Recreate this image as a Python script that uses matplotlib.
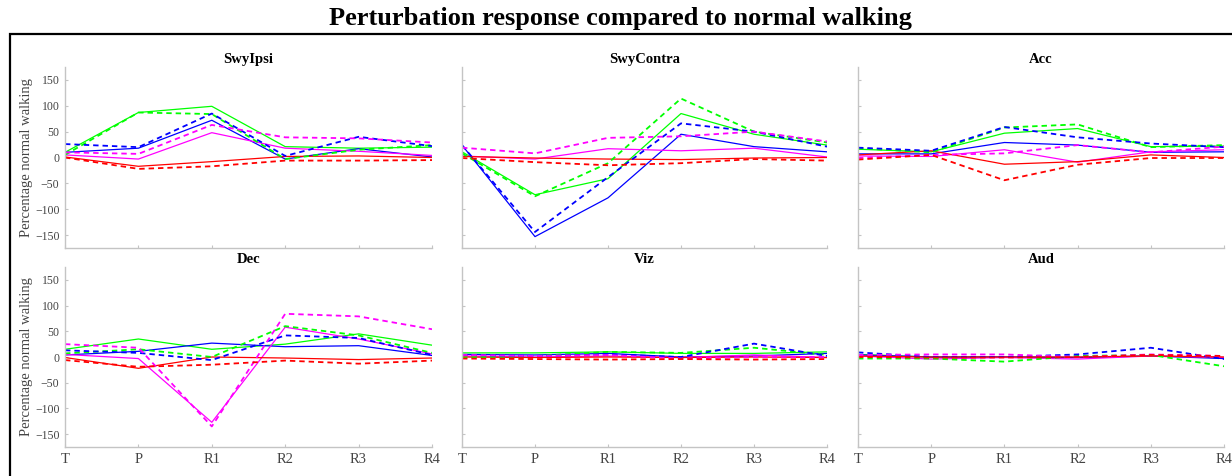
import numpy as np
import matplotlib
matplotlib.use('Agg')
import matplotlib.pyplot as plt
from matplotlib.patches import Rectangle

plt.rcParams['font.family'] = ['Liberation Serif', 'DejaVu Serif']

# stages along x
stages = ['T', 'P', 'R1', 'R2', 'R3', 'R4']
panel_names = ['SwyIpsi', 'SwyContra', 'Acc', 'Dec', 'Viz', 'Aud']
line_colors = ['#00ff00', '#0000ff', '#ff00ff', '#ff0000']  # green, blue, magenta, red

# rows: green, blue, magenta, red
swyipsi_solid = [[10, 87, 99, 21, 18, 20],
                 [10, 18, 72, -3, 17, 1],
                 [5, -3, 48, 18, 12, 4],
                 [1, -17, -8, 2, 3, 0]]
swyipsi_dash = [[5, 87, 84, -3, 15, 24],
                [26, 20, 85, 3, 40, 22],
                [10, 7, 63, 39, 37, 29],
                [0, -22, -17, -6, -6, -5]]

swycontra_solid = [[11, -72, -41, 85, 45, 24],
                   [24, -153, -78, 45, 21, 11],
                   [3, -3, 17, 13, 18, 1],
                   [2, -1, -3, -4, -1, 0]]
swycontra_dash = [[8, -75, -11, 114, 50, 29],
                  [24, -144, -38, 66, 50, 21],
                  [19, 8, 38, 41, 50, 31],
                  [-1, -9, -15, -11, -3, -6]]

acc_solid = [[16, 11, 47, 56, 21, 22],
             [7, 7, 29, 24, 10, 11],
             [3, 2, 15, -9, 11, 15],
             [5, 13, -13, -8, 5, 0]]
acc_dash = [[18, 10, 58, 64, 20, 24],
            [19, 13, 59, 39, 27, 20],
            [-1, 5, 8, 24, 10, 21],
            [-4, 5, -44, -14, -1, -1]]

dec_solid = [[15, 35, 15, 25, 45, 23],
             [4, 11, 27, 20, 22, 3],
             [5, -3, -127, 58, 35, 6],
             [-1, -22, 0, -2, -5, -2]]
dec_dash = [[7, 15, 0, 60, 42, 8],
            [13, 8, -6, 42, 37, 4],
            [25, 18, -135, 84, 79, 54],
            [-6, -19, -15, -7, -13, -7]]

viz_solid = [[8, 8, 10, 7, 7, 10],
             [5, 4, 7, 0, 2, 7],
             [2, 0, 2, -1, 4, -1],
             [0, -1, 0, -1, 0, -1]]
viz_dash = [[-1, 2, 10, 8, 18, 4],
            [4, 2, 5, 0, 26, 2],
            [4, 2, 4, -3, 0, 0],
            [-3, -4, -5, -4, -5, -4]]

aud_solid = [[5, 0, 0, -1, 2, -1],
             [4, 0, 0, -1, 2, -3],
             [2, -4, -1, -4, 2, -1],
             [2, 0, 0, 0, 2, 0]]
aud_dash = [[-3, -3, -9, 2, 4, -18],
            [9, 0, 0, 5, 18, -4],
            [4, 5, 5, 0, 5, 2],
            [0, -1, -1, 0, 4, 2]]

solid_sets = [swyipsi_solid, swycontra_solid, acc_solid, dec_solid, viz_solid, aud_solid]
dash_sets = [swyipsi_dash, swycontra_dash, acc_dash, dec_dash, viz_dash, aud_dash]

W, H = 1232, 476
fig = plt.figure(figsize=(W / 100, H / 100), dpi=100)

# outer black frame (runs off the right and bottom edges)
fig.patches.append(Rectangle((10 / W, -0.05), 1.2, 1 - 34 / H + 0.05,
                             transform=fig.transFigure, fill=False,
                             edgecolor='black', linewidth=1.6))

fig.text(620 / W, 1 - 19 / H, 'Perturbation response compared to normal walking',
         ha='center', va='center', fontsize=19, fontweight='bold')

lefts = [65, 462, 858]
widths = [367, 365, 366]
tops = [67, 267]
heights = [181, 180]

x = np.arange(len(stages))
spine_col = '#c4c4c4'
text_col = '#444444'

for k, name in enumerate(panel_names):
    r, c = divmod(k, 3)
    ax = fig.add_axes([lefts[c] / W, 1 - (tops[r] + heights[r]) / H,
                       widths[c] / W, heights[r] / H])
    for col, ys in zip(line_colors, solid_sets[k]):
        ax.plot(x, ys, '-', color=col, linewidth=0.9)
    for col, ys in zip(line_colors, dash_sets[k]):
        ax.plot(x, ys, '--', color=col, linewidth=1.3, dashes=(3, 2.2))

    ax.set_xlim(0, 5)
    ax.set_ylim(-175, 175)
    ax.set_xticks(x)
    ax.set_yticks(np.arange(-150, 151, 50))
    ax.spines['top'].set_visible(False)
    ax.spines['right'].set_visible(False)
    for s in ('left', 'bottom'):
        ax.spines[s].set_color(spine_col)
        ax.spines[s].set_linewidth(1.0)
    ax.tick_params(direction='in', length=2.5, width=0.8, color=spine_col,
                   labelcolor=text_col, labelsize=8.5, pad=4)
    if r == 1:
        ax.set_xticklabels(stages)
        ax.tick_params(axis='x', labelsize=10.5)
    else:
        ax.set_xticklabels([])
    if c == 0:
        ax.set_ylabel('Percentage normal walking', fontsize=10.5, color=text_col)
        ax.yaxis.set_label_coords(-0.088, 0.5)
    else:
        ax.set_yticklabels([])
    ax.set_title(name, fontsize=10.5, fontweight='bold', pad=3)

fig.savefig('out.png', dpi=100)
